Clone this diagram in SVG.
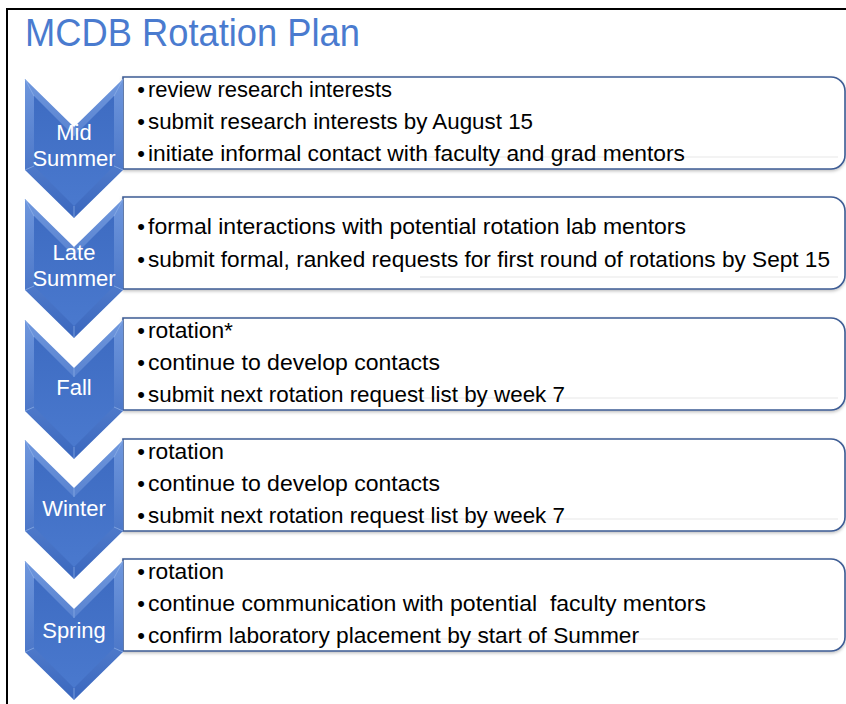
<svg xmlns="http://www.w3.org/2000/svg" width="846" height="704" viewBox="0 0 846 704">
<defs>
<linearGradient id="chevOut" x1="0" y1="0" x2="0" y2="1">
<stop offset="0" stop-color="#6F97DD"/>
<stop offset="1" stop-color="#3A67BE"/>
</linearGradient>
<linearGradient id="chevIn" x1="0" y1="0" x2="0" y2="1">
<stop offset="0" stop-color="#3E6CC2"/>
<stop offset="1" stop-color="#4A79CE"/>
</linearGradient>
<filter id="sh" x="-5%" y="-10%" width="110%" height="130%">
<feDropShadow dx="0" dy="1.5" stdDeviation="1.5" flood-color="#000" flood-opacity="0.25"/>
</filter>
<path id="chev" d="M25,0 L74,48 L123,0 V91 L74,139 L25,91 Z"/>
<path id="chevInner" d="M34,17 L74,57 L114,17 V87 L74,127 L34,87 Z"/>
<path id="box" d="M123,0 H831 A14,14 0 0 1 845,14 V78 A14,14 0 0 1 831,92 H123 Z"/>
</defs>
<style>
.frame{stroke:#000;stroke-width:2;fill:none}
.title{font-family:"Liberation Sans",Arial,sans-serif;font-size:38px;fill:#4A7BCF}
.co{fill:url(#chevOut)}
.ci{fill:url(#chevIn)}
.bev{stroke:#8FB0E8;stroke-width:1;opacity:0.7;fill:none}
.bx{fill:#fff;stroke:#3D5C94;stroke-width:1.6;filter:url(#sh)}
.refl{stroke:#F3F3F3;stroke-width:2}
.lab{font-family:"Liberation Sans",Arial,sans-serif;font-size:22px;fill:#fff;text-anchor:middle}
.t{font-family:"Liberation Sans",Arial,sans-serif;font-size:22px;fill:#000}
.b{font-family:"Liberation Sans",Arial,sans-serif;font-size:22px;fill:#000;text-anchor:middle}
</style>
<rect width="846" height="704" fill="#fff"/>
<path class="frame" d="M7,704 V9 H846"/>
<text class="title" x="25" y="46" textLength="335" lengthAdjust="spacingAndGlyphs">MCDB Rotation Plan</text>
<g id="connectors"/>

<g id="stage-mid-summer">
<g transform="translate(0,77)"><use href="#box" class="bx"/><line class="refl" x1="420" y1="80" x2="838" y2="80"/></g>
<g transform="translate(0,79)"><use href="#chev" class="co"/><use href="#chevInner" class="ci"/><path class="bev" d="M25,0 L34,17 M123,0 L114,17 M25,91 L34,87 M123,91 L114,87 M74,139 L74,127 M74,48 L74,57"/></g>
<text class="lab" x="74" y="140">Mid</text>
<text class="lab" x="74" y="166">Summer</text>
<text class="b" x="141" y="97">•</text><text class="t" x="148" y="97" textLength="244" lengthAdjust="spacingAndGlyphs">review research interests</text>
<text class="b" x="141" y="129">•</text><text class="t" x="148" y="129" textLength="385" lengthAdjust="spacingAndGlyphs">submit research interests by August 15</text>
<text class="b" x="141" y="161">•</text><text class="t" x="148" y="161" textLength="537" lengthAdjust="spacingAndGlyphs">initiate informal contact with faculty and grad mentors</text>
</g>

<g id="stage-late-summer">
<g transform="translate(0,197)"><use href="#box" class="bx"/><line class="refl" x1="420" y1="80" x2="838" y2="80"/></g>
<g transform="translate(0,199)"><use href="#chev" class="co"/><use href="#chevInner" class="ci"/><path class="bev" d="M25,0 L34,17 M123,0 L114,17 M25,91 L34,87 M123,91 L114,87 M74,139 L74,127 M74,48 L74,57"/></g>
<text class="lab" x="74" y="260">Late</text>
<text class="lab" x="74" y="286">Summer</text>
<text class="b" x="141" y="234">•</text><text class="t" x="148" y="234" textLength="538" lengthAdjust="spacingAndGlyphs">formal interactions with potential rotation lab mentors</text>
<text class="b" x="141" y="267">•</text><text class="t" x="148" y="267" textLength="682" lengthAdjust="spacingAndGlyphs">submit formal, ranked requests for first round of rotations by Sept 15</text>
</g>

<g id="stage-fall">
<g transform="translate(0,318)"><use href="#box" class="bx"/><line class="refl" x1="420" y1="80" x2="838" y2="80"/></g>
<g transform="translate(0,320)"><use href="#chev" class="co"/><use href="#chevInner" class="ci"/><path class="bev" d="M25,0 L34,17 M123,0 L114,17 M25,91 L34,87 M123,91 L114,87 M74,139 L74,127 M74,48 L74,57"/></g>
<text class="lab" x="74" y="395">Fall</text>
<text class="b" x="141" y="338">•</text><text class="t" x="148" y="338" textLength="85" lengthAdjust="spacingAndGlyphs">rotation*</text>
<text class="b" x="141" y="370">•</text><text class="t" x="148" y="370" textLength="292" lengthAdjust="spacingAndGlyphs">continue to develop contacts</text>
<text class="b" x="141" y="402">•</text><text class="t" x="148" y="402" textLength="417" lengthAdjust="spacingAndGlyphs">submit next rotation request list by week 7</text>
</g>

<g id="stage-winter">
<g transform="translate(0,439)"><use href="#box" class="bx"/><line class="refl" x1="420" y1="80" x2="838" y2="80"/></g>
<g transform="translate(0,440)"><use href="#chev" class="co"/><use href="#chevInner" class="ci"/><path class="bev" d="M25,0 L34,17 M123,0 L114,17 M25,91 L34,87 M123,91 L114,87 M74,139 L74,127 M74,48 L74,57"/></g>
<text class="lab" x="74" y="516">Winter</text>
<text class="b" x="141" y="459">•</text><text class="t" x="148" y="459" textLength="76" lengthAdjust="spacingAndGlyphs">rotation</text>
<text class="b" x="141" y="491">•</text><text class="t" x="148" y="491" textLength="292" lengthAdjust="spacingAndGlyphs">continue to develop contacts</text>
<text class="b" x="141" y="523">•</text><text class="t" x="148" y="523" textLength="417" lengthAdjust="spacingAndGlyphs">submit next rotation request list by week 7</text>
</g>

<g id="stage-spring">
<g transform="translate(0,559)"><use href="#box" class="bx"/><line class="refl" x1="420" y1="80" x2="838" y2="80"/></g>
<g transform="translate(0,561)"><use href="#chev" class="co"/><use href="#chevInner" class="ci"/><path class="bev" d="M25,0 L34,17 M123,0 L114,17 M25,91 L34,87 M123,91 L114,87 M74,139 L74,127 M74,48 L74,57"/></g>
<text class="lab" x="74" y="638">Spring</text>
<text class="b" x="141" y="579">•</text><text class="t" x="148" y="579" textLength="76" lengthAdjust="spacingAndGlyphs">rotation</text>
<text class="b" x="141" y="611">•</text><text class="t" x="148" y="611" textLength="558" lengthAdjust="spacingAndGlyphs" xml:space="preserve">continue communication with potential  faculty mentors</text>
<text class="b" x="141" y="643">•</text><text class="t" x="148" y="643" textLength="491" lengthAdjust="spacingAndGlyphs">confirm laboratory placement by start of Summer</text>
</g>
</svg>
